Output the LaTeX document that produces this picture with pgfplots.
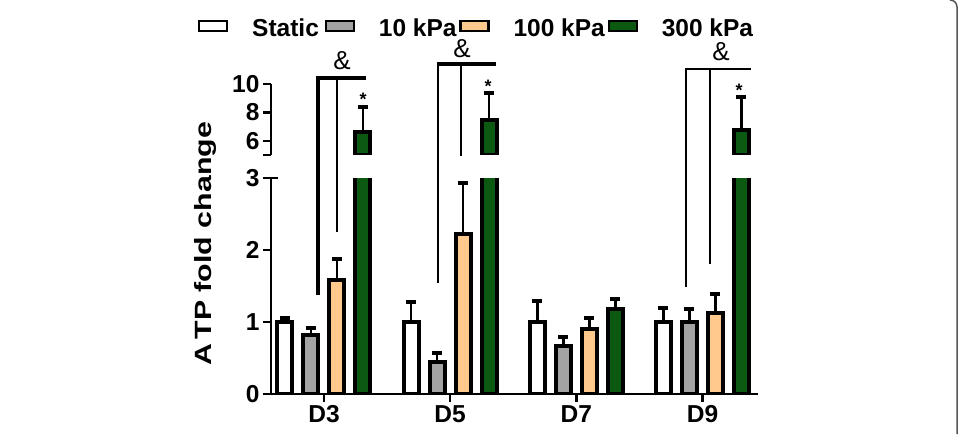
\documentclass[border=0pt]{standalone}
\usepackage{fontspec}
\setmainfont{Liberation Sans}
\usepackage{graphicx}
\usepackage{pgfplots}
\pgfplotsset{compat=1.18}
\usepackage{pgfplotstable}
\definecolor{barGray}{HTML}{A3A3A3}
\definecolor{barOrange}{HTML}{FFC88C}
\definecolor{barGreen}{HTML}{0C5A12}
\definecolor{frameGray}{HTML}{555555}

\pgfplotstableread{
x y e
0 1.00 0.06
1 1.00 0.28
2 1.00 0.29
3 1.00 0.19
}\staticT
\pgfplotstableread{
x y e
0 0.82 0.10
1 0.45 0.12
2 0.67 0.12
3 1.00 0.18
}\tenT
\pgfplotstableread{
x y e
0 1.58 0.29
1 2.22 0.71
2 0.90 0.15
3 1.12 0.27
}\hundredT
\pgfplotstableread{
x y e
0 6.64 1.76
1 7.46 1.89
2 1.18 0.14
3 6.76 2.34
}\threeT

\begin{document}
\begin{tikzpicture}
\useasboundingbox (0,0) rectangle (959pt,434pt);
\pgfplotsset{
  common/.style={
    scale only axis, width=487pt,
    xmin=-0.42, xmax=3.44,
    axis line style={line width=2.5pt, black},
    tick align=outside,
    major tick length=8pt,
    major tick style={line width=2.5pt, black},
    tick label style={font=\fontsize{24.5}{28}\selectfont\bfseries},
    /pgf/number format/assume math mode=true,
    ybar, bar width=15pt,
    axis on top,
  },
  bars/.style={draw=black, line width=4pt},
  ebars/.style={/pgfplots/error bars/y dir=plus, /pgfplots/error bars/y explicit,
    /pgfplots/error bars/error mark=|,
    /pgfplots/error bars/error bar style={line width=2.5pt, black},
    /pgfplots/error bars/error mark options={line width=4pt, mark size=5pt, black}},
}
% lower axis
\begin{axis}[common,
  at={(271pt,40pt)}, anchor=south west, height=216pt,
  ymin=0, ymax=3,
  axis lines*=left,
  xtick={0,1,2,3}, xticklabels={D3,D5,D7,D9},
  ytick={0,1,2,3},
  extra y ticks={3}, extra y tick labels={},
  extra y tick style={tick align=center, major tick length=14pt},
  legend columns=4,
  legend cell align=left,
  legend style={draw=none, fill=none, at={(-0.152,1.706)}, anchor=west,
    font=\fontsize{24.5}{28}\selectfont\bfseries,
    inner sep=0pt, column sep=0pt,
    nodes={inner xsep=0pt, inner ysep=0pt}},
  legend image code/.code={
    \draw[#1, line width=2.5pt] (0pt,-2.5pt) rectangle (28pt,7.5pt);
    \path (0pt,-8pt) (51pt,14pt);},
]
\addplot[bars, fill=white, bar shift=-39pt, ebars] table[x=x, y=y, y error=e] {\staticT};
\addlegendentry{Static\kern5pt}
\addplot[bars, fill=barGray, bar shift=-13pt, ebars] table[x=x, y=y, y error=e] {\tenT};
\addlegendentry{10 kPa\kern2pt}
\addplot[bars, fill=barOrange, bar shift=13pt, ebars] table[x=x, y=y, y error=e] {\hundredT};
\addlegendentry{100 kPa\kern2pt}
\addplot[bars, fill=barGreen, bar shift=39pt] table[x=x, y=y] {\threeT};
\addlegendentry{300 kPa}
\addplot[bars, fill=barGreen, bar shift=39pt, restrict y to domain=0:3, forget plot, ebars] table[x=x, y=y, y error=e] {\threeT};
\end{axis}
% upper axis
\begin{axis}[common,
  at={(271pt,279pt)}, anchor=south west, height=71pt,
  ymin=5, ymax=10,
  axis x line=none, axis y line*=left,
  ytick={5,6,8,10}, yticklabels={,6,8,10},
]
\addplot[bars, fill=barGreen, bar shift=39pt, restrict y to domain=5:11, ebars] table[x=x, y=y, y error=e] {\threeT};
\end{axis}
% y label
\node[rotate=90, font=\fontsize{23.5}{26}\selectfont\bfseries] at (205pt,190.5pt)
  {\scalebox{1.29}[1]{A\kern3pt TP fold change}};
% significance brackets
\draw[line width=4.5pt, black] (318pt,139pt) -- (318pt,356pt) -- (366pt,356pt);
\draw[line width=2.5pt, black] (337pt,356pt) -- (337pt,202pt);
\draw[line width=2.5pt, black] (438pt,151pt) -- (438pt,370pt);
\draw[line width=4.5pt, black] (436.5pt,370pt) -- (496pt,370pt);
\draw[line width=2.5pt, black] (461pt,370pt) -- (461pt,278pt);
\draw[line width=2.5pt, black] (686pt,147pt) -- (686pt,365pt) -- (751pt,365pt);
\draw[line width=2.5pt, black] (710pt,365pt) -- (710pt,170pt);
\node[font=\fontsize{26}{28}\selectfont] at (342pt,373pt) {\&};
\node[font=\fontsize{26}{28}\selectfont] at (462pt,385pt) {\&};
\node[font=\fontsize{26}{28}\selectfont] at (721pt,382pt) {\&};
\node[font=\fontsize{18}{20}\selectfont\bfseries] at (363pt,335pt) {*};
\node[font=\fontsize{18}{20}\selectfont\bfseries] at (488pt,348pt) {*};
\node[font=\fontsize{18}{20}\selectfont\bfseries] at (739pt,344pt) {*};
% panel frame edge
\draw[frameGray, line width=1.5pt] (950pt,434pt) to[out=0,in=90] (957pt,427pt) -- (957pt,0pt);
\end{tikzpicture}
\end{document}
